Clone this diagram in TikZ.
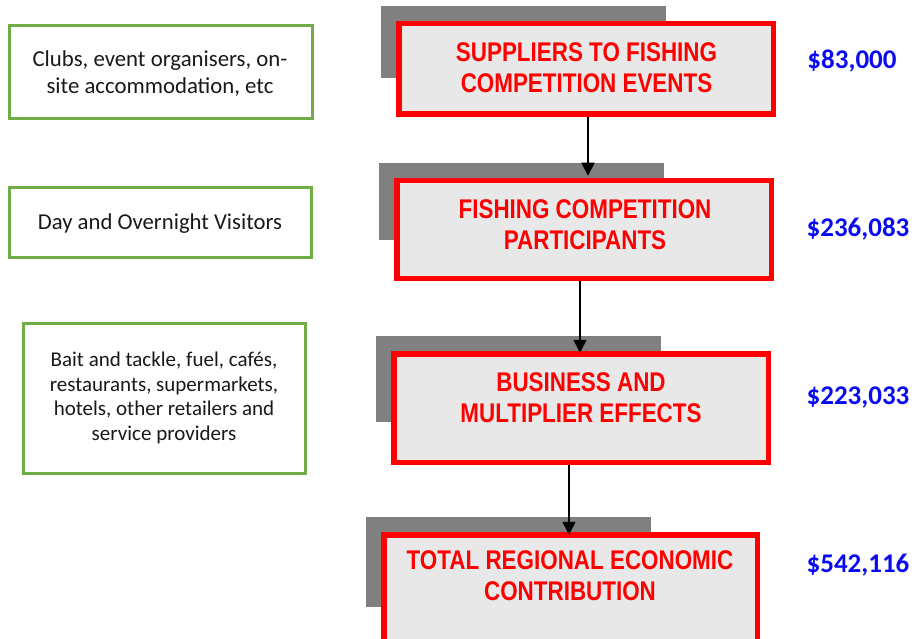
\documentclass[tikz,border=0pt]{standalone}
\usepackage{fontspec}
\setmainfont{Carlito}
\newfontfamily\redfont[FakeStretch=0.83]{Liberation Sans}
\usetikzlibrary{arrows.meta}
\definecolor{boxred}{RGB}{255,0,0}
\definecolor{boxfill}{RGB}{232,232,232}
\definecolor{shadowgray}{RGB}{128,128,128}
\definecolor{boxgreen}{RGB}{112,173,71}
\definecolor{valblue}{RGB}{10,10,240}
\definecolor{greytext}{RGB}{25,25,25}
\tikzset{
  redbox/.style={draw=boxred, fill=boxfill, line width=5.5pt, inner sep=0pt, outer sep=0pt},
  shadowbox/.style={fill=shadowgray, draw=none},
  redtext/.style={text=boxred, align=center, inner sep=0pt, font=\redfont\bfseries\fontsize{27}{31}\selectfont},
  greenbox/.style={draw=boxgreen, line width=3pt, fill=white},
  greentext/.style={text=greytext, align=center, inner sep=0pt, font=\fontsize{22.8}{27}\selectfont},
  valtext/.style={text=valblue, inner sep=0pt, font=\bfseries\fontsize{27}{32}\selectfont},
  arr/.style={-{Triangle[length=13pt,width=13pt]}, line width=1.6pt, black}
}
\begin{document}
\begin{tikzpicture}[x=1pt,y=-1pt]
\useasboundingbox (0,0) rectangle (915,639);
\clip (0,0) rectangle (915,639);
% shadows
\fill[shadowbox] (381,6) rectangle (666,78);
\fill[shadowbox] (379,163) rectangle (664,240);
\fill[shadowbox] (376,336) rectangle (661,422);
\fill[shadowbox] (366,517) rectangle (651,607);
% red boxes
\node[redbox, minimum width=374.5pt, minimum height=90.5pt] (b1) at (586,69) {};
\node[redbox, minimum width=374.5pt, minimum height=97.5pt] (b2) at (584,229.5) {};
\node[redbox, minimum width=374.5pt, minimum height=108.5pt] (b3) at (581,408) {};
\node[redbox, minimum width=373.5pt, minimum height=108.5pt] (b4) at (570.5,589) {};
% red texts
\node[redtext] (t1) at (586.5,68) {SUPPLIERS TO FISHING\\COMPETITION EVENTS};
\node[redtext] (t2) at (585,225) {FISHING COMPETITION\\PARTICIPANTS};
\node[redtext] (t3) at (581,398) {BUSINESS AND\\MULTIPLIER EFFECTS};
\node[redtext] (t4) at (570,576) {TOTAL REGIONAL ECONOMIC\\CONTRIBUTION};
% arrows
\coordinate (a1s) at (588,117);
\coordinate (a2s) at (580,281);
\coordinate (a3s) at (569,465);
\draw[arr, shorten >=5pt] (a1s) -- (a1s |- b2.north);
\draw[arr, shorten >=1pt] (a2s) -- (a2s |- b3.north);
\draw[arr] (a3s) -- (a3s |- b4.north);
% green boxes
\draw[greenbox] (9,26) rectangle (312,119);
\draw[greenbox] (9,188) rectangle (311,257);
\draw[greenbox] (23,323) rectangle (305,473);
\node[greentext] (g1) at (160,74) {Clubs, event organisers, on-\\site accommodation, etc};
\node[greentext, font=\fontsize{22.7}{27}\selectfont] (g2) at (160,224) {Day and Overnight Visitors};
\node[greentext, font=\fontsize{21}{24.5}\selectfont] (g3) at (164,398) {Bait and tackle, fuel, cafés,\\restaurants, supermarkets,\\hotels, other retailers and\\service providers};
% values
\node[valtext] (v1) at (852,61) {\$83,000};
\node[valtext] (v2) at (858,229) {\$236,083};
\node[valtext] (v3) at (858,397) {\$223,033};
\node[valtext] (v4) at (858,565) {\$542,116};
\end{tikzpicture}
\end{document}
